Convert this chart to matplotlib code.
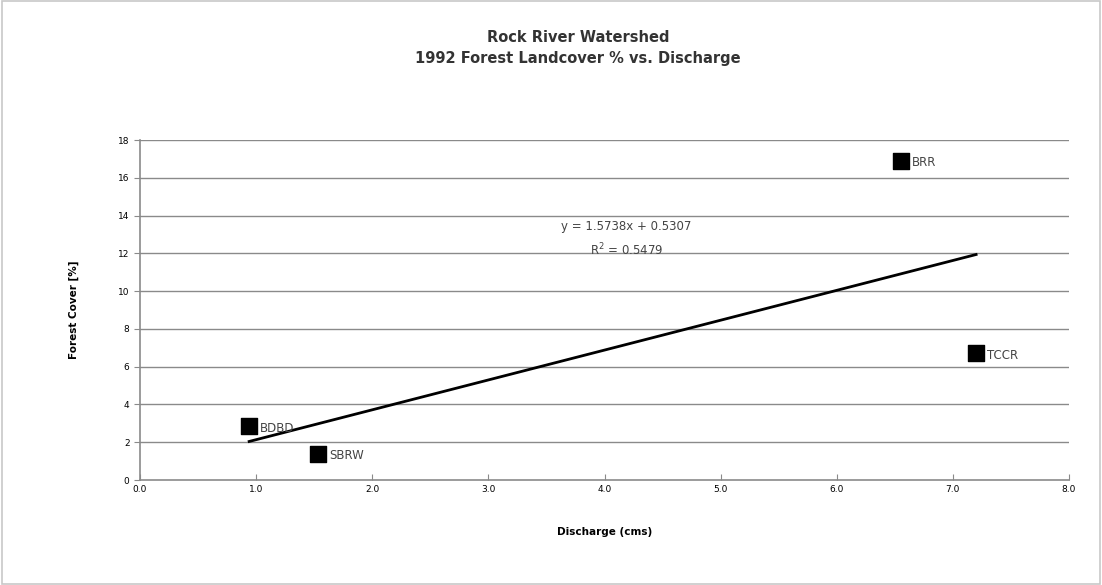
import matplotlib
matplotlib.use("Agg")
import matplotlib.pyplot as plt
import numpy as np
from matplotlib.patches import Rectangle

sites = ["BDBD", "SBRW", "BRR", "TCCR"]
discharge = [0.94, 1.53, 6.55, 7.20]
forest_cover = [2.86, 1.38, 16.9, 6.72]
x_ticks = [0, 1, 2, 3, 4, 5, 6, 7, 8]
y_ticks = [0, 2, 4, 6, 8, 10, 12, 14, 16, 18]

fig = plt.figure(figsize=(11.02, 5.85), dpi=100)
fig.patches.append(Rectangle((0.002, 0.002), 0.996, 0.996, transform=fig.transFigure,
                             fill=False, edgecolor="#c8c8c8", linewidth=1.2))
ax = fig.add_axes([140/1102, 1-480/585, (1069-140)/1102, (480-140)/585])

for yv in y_ticks[1:]:
    ax.axhline(yv, color="#8a8a8a", linewidth=1.0, zorder=1)

ax.scatter(discharge, forest_cover, marker="s", s=130, color="black", zorder=3)
for xi, yi, name in zip(discharge, forest_cover, sites):
    ax.annotate(name, (xi, yi), xytext=(8, -4), textcoords="offset points",
                fontsize=8.5, color="#444444", zorder=4)

slope, intercept = np.polyfit(discharge, forest_cover, 1)
xs = np.array([min(discharge), max(discharge)])
ax.plot(xs, slope*xs + intercept, color="black", linewidth=2, zorder=2)

ax.text(4.19, 13.44, "y = 1.5738x + 0.5307", ha="center", va="center", fontsize=8.5, color="#444444")
ax.text(4.19, 12.2, "R$^2$ = 0.5479", ha="center", va="center", fontsize=8.5, color="#444444")

ax.set_xlim(0, 8)
ax.set_ylim(0, 18)
ax.set_xticks(x_ticks)
ax.set_xticklabels([f"{v:.1f}" for v in x_ticks])
ax.set_yticks(y_ticks)
ax.tick_params(axis="both", labelsize=6.5, color="#8a8a8a", length=4)
ax.tick_params(axis="x", direction="in")
for s in ["top", "right"]:
    ax.spines[s].set_visible(False)
for s in ["left", "bottom"]:
    ax.spines[s].set_color("#8a8a8a")
    ax.spines[s].set_linewidth(1.2)

ax.set_xlabel("Discharge (cms)", fontsize=7.5, fontweight="bold", labelpad=24)
ax.set_ylabel("Forest Cover [%]", fontsize=7.5, fontweight="bold", labelpad=28)

fig.text(578/1102, 1-37/585, "Rock River Watershed", ha="center", va="center",
         fontsize=10.5, fontweight="semibold", color="#333333")
fig.text(578/1102, 1-58/585, "1992 Forest Landcover % vs. Discharge", ha="center", va="center",
         fontsize=10.5, fontweight="semibold", color="#333333")

fig.savefig("out.png", dpi=100)
